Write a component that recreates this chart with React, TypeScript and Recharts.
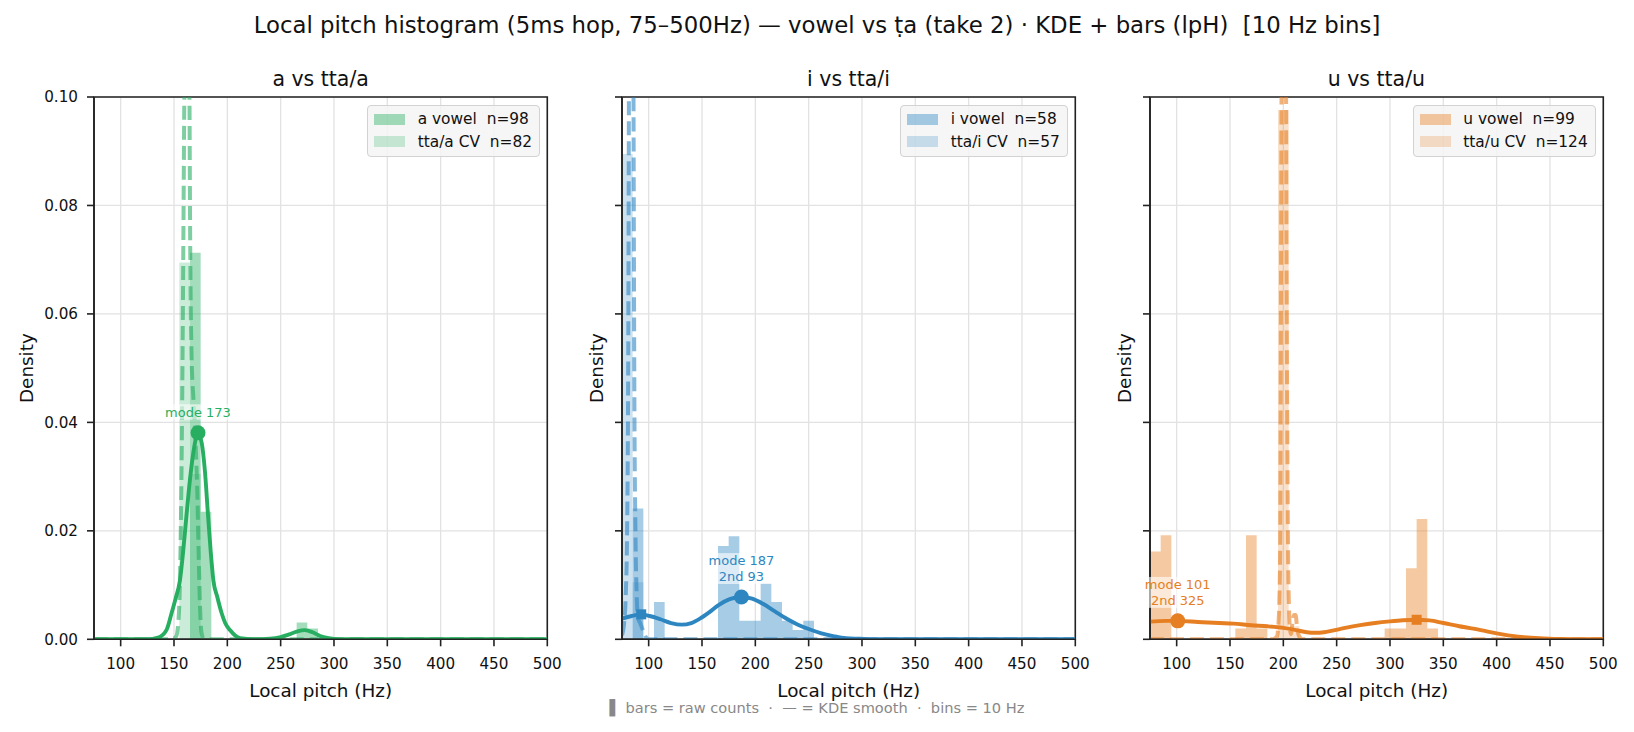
import React from 'react';
import {
  ComposedChart,
  Area,
  Line,
  XAxis,
  YAxis,
  CartesianGrid,
  ReferenceDot,
  ReferenceArea,
  Label,
} from 'recharts';

const FONT = '"DejaVu Sans", sans-serif';
const FIG_W = 1634;
const FIG_H = 732;
const PLOT_TOP = 97;
const PLOT_H = 542.3;
const PLOT_W = 453.3;
const Y_AXIS_W = 94;
const RIGHT_PAD = 20;
const X_AXIS_H = 60;
const PANEL_LEFTS = [94, 621.8, 1149.7];

const GREEN = '#27ae60';
const BLUE = '#2e86c1';
const ORANGE = '#e67e22';

const X_TICKS = [100, 150, 200, 250, 300, 350, 400, 450, 500];
const Y_TICKS = [0, 0.02, 0.04, 0.06, 0.08, 0.1];
const BIN_W = 10;
const BIN_FIRST = 75;
const BIN_LAST = 505;

// ---- a vs tta/a ----
const aVowelBins = [165, 175, 265, 275];
const aVowelDens = [0.0713, 0.0235, 0.0031, 0.002];
const ttaABins = [155, 165];
const ttaADens = [0.0695, 0.0305];

const aVowelKdeHz = [75, 125, 135, 142.9, 147.7, 151.5, 155.6, 158.5, 161.6, 165, 169, 172.5, 176, 179, 182, 184.5, 186.9, 190.6, 194.7, 198, 202.5, 212, 225, 240, 250, 258, 265, 272.5, 280, 287, 295, 305, 500];
const aVowelKde = [0, 0, 0.0003, 0.0017, 0.0048, 0.0075, 0.0109, 0.016, 0.0226, 0.0295, 0.0355, 0.0381, 0.0362, 0.031, 0.0226, 0.016, 0.0109, 0.0078, 0.0048, 0.003, 0.0017, 0.0002, 0, 0.0001, 0.0004, 0.0009, 0.0014, 0.0017, 0.0013, 0.0006, 0.0002, 0, 0];

const ttaAKdeHz = [75, 148, 152, 154, 155.5, 156.5, 157.5, 158.5, 159.5, 161, 162.5, 164, 165.3, 166.5, 168.3, 170.3, 172, 173.1, 174.4, 175.6, 178, 500];
const ttaAKde = [0, 0, 0.0005, 0.003, 0.01, 0.022, 0.04, 0.065, 0.095, 0.13, 0.145, 0.12, 0.07, 0.052, 0.044, 0.036, 0.026, 0.016, 0.006, 0.0015, 0, 0];

// ---- i vs tta/i ----
const iVowelBins = [85, 105, 165, 175, 185, 195, 205, 215, 225, 235, 245];
const iVowelDens = [0.0241, 0.0069, 0.0172, 0.019, 0.0034, 0.0034, 0.0103, 0.0069, 0.0034, 0.0017, 0.0034];
const ttaIBins = [75, 85];
const ttaIDens = [0.0895, 0.0105];

const iVowelKdeHz = [75, 84, 93, 101, 111, 121, 131, 140, 148, 157, 165.5, 176, 187, 197, 207.6, 218, 229.4, 240, 251.3, 262, 273, 285, 298, 310, 500];
const iVowelKde = [0.0038, 0.0043, 0.0046, 0.0043, 0.0037, 0.003, 0.0027, 0.003, 0.0038, 0.005, 0.0063, 0.0074, 0.0078, 0.0075, 0.0065, 0.0052, 0.0038, 0.0027, 0.0018, 0.0011, 0.0006, 0.0002, 0.0001, 0, 0];

const ttaIKdeHz = [75, 77, 78.5, 79.8, 80.8, 81.6, 82.6, 83.8, 85, 85.8, 86.6, 87.6, 88.8, 90, 92, 94, 97, 100, 500];
const ttaIKde = [0.0008, 0.003, 0.008, 0.02, 0.05, 0.11, 0.19, 0.22, 0.17, 0.1, 0.045, 0.02, 0.008, 0.004, 0.003, 0.002, 0.0005, 0, 0];

// ---- u vs tta/u ----
const uVowelBins = [75, 85, 155, 165, 175, 295, 305, 315, 325, 335];
const uVowelDens = [0.0162, 0.0192, 0.002, 0.0192, 0.002, 0.002, 0.002, 0.0131, 0.0222, 0.002];
const ttaUBins = [195, 205];
const ttaUDens = [0.0976, 0.0024];

const uVowelKdeHz = [75, 90, 101, 120, 140, 153, 170, 185, 200, 212, 222, 230, 238, 246, 258, 272, 286, 300, 312, 325, 337, 350, 365, 385, 400, 420, 440, 460, 480, 500];
const uVowelKde = [0.00325, 0.0034, 0.0034, 0.0032, 0.003, 0.0029, 0.0026, 0.0024, 0.0021, 0.0017, 0.0013, 0.0012, 0.0013, 0.0016, 0.0021, 0.0026, 0.003, 0.0033, 0.0035, 0.0036, 0.0035, 0.003, 0.0024, 0.0017, 0.0011, 0.0005, 0.0002, 0.00005, 0, 0];

const ttaUKdeHz = [75, 190, 194, 195.5, 196.4, 197.1, 197.6, 198.3, 199.5, 201, 202.3, 203, 203.8, 204.5, 205.3, 206.2, 207.2, 208.5, 210, 211.5, 213, 215, 218, 500];
const ttaUKde = [0, 0, 0.0005, 0.003, 0.008, 0.018, 0.05, 0.1, 0.16, 0.17, 0.12, 0.07, 0.035, 0.015, 0.006, 0.002, 0.001, 0.003, 0.0045, 0.0045, 0.002, 0.0005, 0, 0];

const histSteps = (starts: number[], dens: number[]) => {
  const out: { x: number; y: number }[] = [];
  for (let lo = BIN_FIRST; lo < BIN_LAST; lo += BIN_W) {
    const i = starts.indexOf(lo);
    out.push({ x: lo, y: i >= 0 ? dens[i] : 0 });
  }
  out.push({ x: BIN_LAST, y: 0 });
  return out;
};

const curve = (hz: number[], dens: number[]) => hz.map((x, i) => ({ x, y: dens[i] }));

const rgba = (hex: string, a: number) => {
  const n = parseInt(hex.slice(1), 16);
  return `rgba(${(n >> 16) & 255},${(n >> 8) & 255},${n & 255},${a})`;
};

interface PanelSpec {
  title: string;
  color: string;
  vowelLabel: string;
  ttaLabel: string;
  vowelHist: { x: number; y: number }[];
  ttaHist: { x: number; y: number }[];
  vowelKde: { x: number; y: number }[];
  ttaKde: { x: number; y: number }[];
  mode: [number, number];
  second: [number, number] | null;
  note: string[];
}

const panels: PanelSpec[] = [
  {
    title: 'a vs tta/a',
    color: GREEN,
    vowelLabel: 'a vowel  n=98',
    ttaLabel: 'tta/a CV  n=82',
    vowelHist: histSteps(aVowelBins, aVowelDens),
    ttaHist: histSteps(ttaABins, ttaADens),
    vowelKde: curve(aVowelKdeHz, aVowelKde),
    ttaKde: curve(ttaAKdeHz, ttaAKde),
    mode: [172.5, 0.0381],
    second: null,
    note: ['mode 173'],
  },
  {
    title: 'i vs tta/i',
    color: BLUE,
    vowelLabel: 'i vowel  n=58',
    ttaLabel: 'tta/i CV  n=57',
    vowelHist: histSteps(iVowelBins, iVowelDens),
    ttaHist: histSteps(ttaIBins, ttaIDens),
    vowelKde: curve(iVowelKdeHz, iVowelKde),
    ttaKde: curve(ttaIKdeHz, ttaIKde),
    mode: [187, 0.0078],
    second: [93, 0.0046],
    note: ['mode 187', '2nd 93'],
  },
  {
    title: 'u vs tta/u',
    color: ORANGE,
    vowelLabel: 'u vowel  n=99',
    ttaLabel: 'tta/u CV  n=124',
    vowelHist: histSteps(uVowelBins, uVowelDens),
    ttaHist: histSteps(ttaUBins, ttaUDens),
    vowelKde: curve(uVowelKdeHz, uVowelKde),
    ttaKde: curve(ttaUKdeHz, ttaUKde),
    mode: [101, 0.0034],
    second: [325, 0.0036],
    note: ['mode 101', '2nd 325'],
  },
];

const ModeMarker = (props: any) => {
  const { cx, cy, color, lines } = props;
  const fs = 13;
  const lh = 15.5;
  const w = Math.max(...lines.map((l: string) => l.length)) * fs * 0.62 + 4;
  const base = cy - 16;
  const top = base - (lines.length - 1) * lh - fs * 0.8;
  return (
    <g>
      <circle cx={cx} cy={cy} r={7.5} fill={color} />
      <rect x={cx - w / 2} y={top - 2} width={w} height={base - top + 5} fill="#fff" fillOpacity={0.6} />
      {lines.map((t: string, i: number) => (
        <text key={t} x={cx} y={base - (lines.length - 1 - i) * lh} textAnchor="middle" fontSize={fs} fill={color}>
          {t}
        </text>
      ))}
    </g>
  );
};

const SquareMarker = (props: any) => (
  <rect x={props.cx - 5} y={props.cy - 5} width={10} height={10} fill={props.color} />
);

const axisStroke = { stroke: '#222', strokeWidth: 1.6 };

const PitchPanel = ({ p, index }: { p: PanelSpec; index: number }) => {
  const width = Y_AXIS_W + PLOT_W + RIGHT_PAD;
  return (
    <div style={{ position: 'absolute', left: PANEL_LEFTS[index] - Y_AXIS_W, top: 0, width, height: FIG_H }}>
      <ComposedChart
        width={width}
        height={FIG_H}
        margin={{ top: PLOT_TOP, right: RIGHT_PAD, bottom: FIG_H - PLOT_TOP - PLOT_H - X_AXIS_H, left: 0 }}
      >
        <CartesianGrid stroke="#e2e2e2" strokeWidth={1.3} />
        <XAxis
          dataKey="x"
          type="number"
          domain={[75, 500]}
          ticks={X_TICKS}
          interval={0}
          allowDataOverflow
          height={X_AXIS_H}
          tickSize={7}
          tickMargin={12}
          tick={{ fill: '#111', fontSize: 15.2 }}
          axisLine={axisStroke}
          tickLine={axisStroke}
        >
          <Label value="Local pitch (Hz)" position="insideBottom" offset={2} style={{ fontSize: 18.4, fill: '#111' }} />
        </XAxis>
        <YAxis
          type="number"
          domain={[0, 0.1]}
          ticks={Y_TICKS}
          interval={0}
          allowDataOverflow
          width={Y_AXIS_W}
          tickSize={7}
          tickMargin={9}
          tick={{ fill: '#111', fontSize: 15.2 }}
          tickFormatter={(v: number) => (index === 0 ? v.toFixed(2) : '')}
          axisLine={axisStroke}
          tickLine={axisStroke}
        >
          <Label
            value="Density"
            angle={-90}
            position="insideLeft"
            offset={index === 0 ? 26.8 : Y_AXIS_W - 25.8}
            style={{ textAnchor: 'middle', fontSize: 18.4, fill: '#111' }}
          />
        </YAxis>
        <Area data={p.vowelHist} dataKey="y" type="stepAfter" fill={p.color} fillOpacity={0.42} stroke="none" isAnimationActive={false} />
        <Area data={p.ttaHist} dataKey="y" type="stepAfter" fill={p.color} fillOpacity={0.24} stroke="none" isAnimationActive={false} />
        <Line data={p.vowelKde} dataKey="y" type="monotone" stroke={p.color} strokeWidth={3.9} dot={false} isAnimationActive={false} />
        <Line
          data={p.ttaKde}
          dataKey="y"
          type="monotone"
          stroke={p.color}
          strokeOpacity={0.6}
          strokeWidth={4}
          strokeDasharray="14 6"
          dot={false}
          isAnimationActive={false}
        />
        {p.second && (
          <ReferenceDot x={p.second[0]} y={p.second[1]} r={5} shape={(s: any) => <SquareMarker {...s} color={p.color} />} />
        )}
        <ReferenceDot
          x={p.mode[0]}
          y={p.mode[1]}
          r={7.5}
          shape={(s: any) => <ModeMarker {...s} color={p.color} lines={p.note} />}
        />
        <ReferenceArea x1={75} x2={500} y1={0} y2={0.1} fill="none" stroke="#222" strokeWidth={1.6} ifOverflow="visible" />
      </ComposedChart>
      <div
        style={{
          position: 'absolute',
          right: RIGHT_PAD + 7.3,
          top: PLOT_TOP + 8,
          background: 'rgba(244,244,244,0.85)',
          border: '1px solid #d2d2d2',
          borderRadius: 4,
          padding: '2px 7px 3px 6.3px',
          fontSize: 15.4,
          color: '#111',
        }}
      >
        {[
          { label: p.vowelLabel, a: 0.42 },
          { label: p.ttaLabel, a: 0.24 },
        ].map((r) => (
          <div key={r.label} style={{ height: 22.4, display: 'flex', alignItems: 'center', whiteSpace: 'pre' }}>
            <span style={{ display: 'inline-block', width: 31, height: 11, background: rgba(p.color, r.a), marginRight: 12.3 }} />
            {r.label}
          </div>
        ))}
      </div>
    </div>
  );
};

export default function App() {
  return (
    <div
      style={{
        position: 'absolute',
        left: 0,
        top: 0,
        width: FIG_W,
        height: FIG_H,
        background: '#fff',
        fontFamily: FONT,
        overflow: 'hidden',
      }}
    >
      <svg width={FIG_W} height={FIG_H} style={{ position: 'absolute', left: 0, top: 0 }}>
        <text x={817} y={33.3} textAnchor="middle" fontSize={22.8} fill="#111" style={{ whiteSpace: 'pre' }}>
          {'Local pitch histogram (5ms hop, 75–500Hz) — vowel vs ṭa (take 2) · KDE + bars (lpH)  [10 Hz bins]'}
        </text>
        {panels.map((p, i) => (
          <text key={p.title} x={PANEL_LEFTS[i] + PLOT_W / 2} y={86} textAnchor="middle" fontSize={20.5} fill="#111">
            {p.title}
          </text>
        ))}
        <text x={817} y={713.3} textAnchor="middle" fontSize={14.6} fill="#888" style={{ whiteSpace: 'pre' }}>
          {'▌ bars = raw counts  ·  — = KDE smooth  ·  bins = 10 Hz'}
        </text>
      </svg>
      {panels.map((p, i) => (
        <PitchPanel key={p.title} p={p} index={i} />
      ))}
    </div>
  );
}
